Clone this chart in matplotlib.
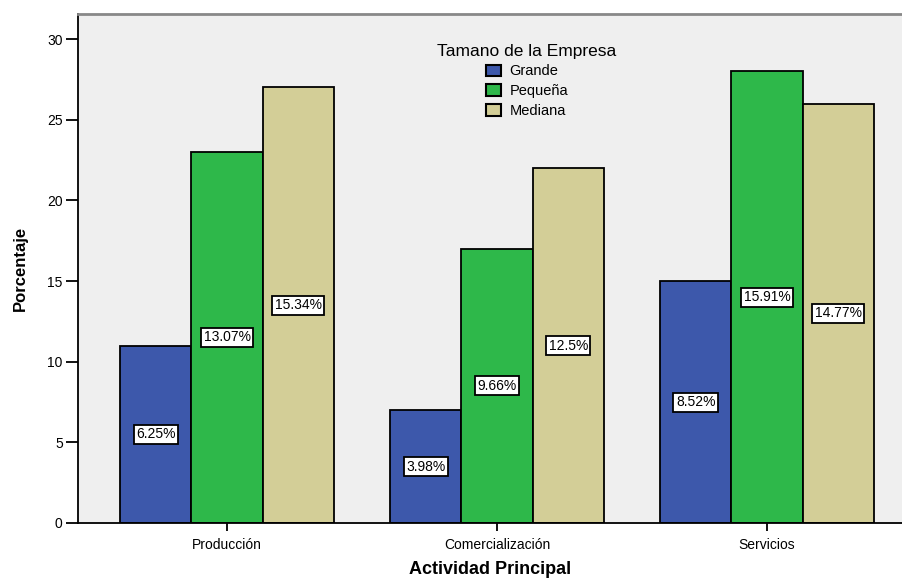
import matplotlib
matplotlib.use("Agg")
import matplotlib.pyplot as plt
import numpy as np

plt.rcParams['font.family'] = ['Liberation Sans', 'DejaVu Sans']

categories = ["Producción", "Comercialización", "Servicios"]
series_names = ["Grande", "Pequeña", "Mediana"]
grande = [11, 7, 15]
pequena = [23, 17, 28]
mediana = [27, 22, 26]
colors = ["#3D58AB", "#2EB84A", "#D3CE97"]
y_ticks = [0, 5, 10, 15, 20, 25, 30]

series = [grande, pequena, mediana]
total = sum(sum(s) for s in series)

fig = plt.figure(figsize=(9.02, 5.79), dpi=100)
ax = fig.add_axes([78 / 902, 56 / 579, 1 - 78 / 902, (523 - 14) / 579])
ax.set_facecolor("#EFEFEF")

x = np.arange(len(categories))
width = 0.264
for i, (vals, name, col) in enumerate(zip(series, series_names, colors)):
    pos = x + (i - 1) * width
    ax.bar(pos, vals, width=width, color=col, edgecolor="black",
           linewidth=1.3, label=name, zorder=2)
    for px, v in zip(pos, vals):
        ax.text(px, v / 2, f"{round(v / total * 100, 2):g}%",
                ha="center", va="center", fontsize=10, zorder=3,
                bbox=dict(boxstyle="square,pad=0.18", facecolor="white",
                          edgecolor="black", linewidth=1.3))

ax.set_xlim(-0.552, 2.5)
ax.set_ylim(0, 31.55)
ax.set_yticks(y_ticks)
ax.set_xticks(x)
ax.set_xticklabels(categories, fontsize=10)
ax.tick_params(axis="y", direction="out", length=9, width=1.3, labelsize=10,
               pad=2, colors="black")
ax.tick_params(axis="x", direction="out", length=6, width=1.3, pad=5)

ax.spines["right"].set_visible(False)
ax.spines["top"].set_color("#888888")
ax.spines["top"].set_linewidth(2)
ax.spines["left"].set_linewidth(1.3)
ax.spines["bottom"].set_linewidth(1.3)

ax.set_xlabel("Actividad Principal", fontsize=13, fontweight="bold", labelpad=6)
ax.set_ylabel("Porcentaje", fontsize=12, fontweight="bold", labelpad=14,
              family=["Liberation Sans Narrow", "Liberation Sans", "DejaVu Sans"])

leg = ax.legend(title="Tamano de la Empresa", loc="upper center",
                bbox_to_anchor=(0.545, 0.962), frameon=False, fontsize=10.5,
                title_fontsize=12.5, handlelength=1.0, handleheight=0.85,
                labelspacing=0.4, handletextpad=0.6, borderpad=0.2)
for h in leg.legend_handles:
    h.set_linewidth(1.5)
leg._legend_box.align = "center"

fig.savefig("out.png", dpi=100, facecolor="white")
